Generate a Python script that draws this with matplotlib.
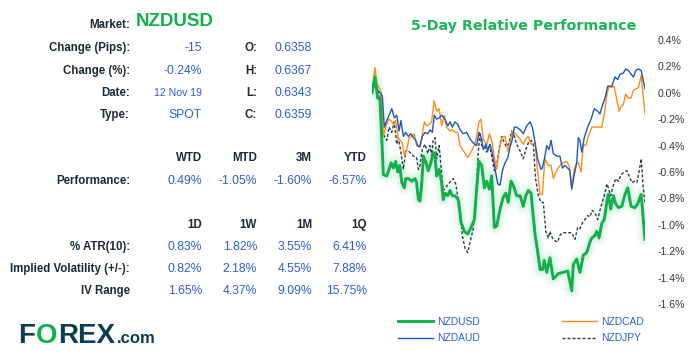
import matplotlib
matplotlib.use("Agg")
import matplotlib.pyplot as plt

plt.rcParams['font.family'] = ['Liberation Sans', 'DejaVu Sans']

# ---- 5-day relative performance (% change), x in hours ----
usd_t = [0, 1.3, 2.5, 3.5, 4.3, 5.0, 6.5, 7.5, 8.4, 9.4, 10.4, 11.3, 12.2, 13.1, 14.2, 14.8,
         16.0, 17.5, 18.9, 19.6, 20.4, 21.1, 21.8, 22.6, 23.6, 24.7, 25.9, 26.9, 27.7, 28.4,
         29.5, 30.6, 31.3, 32.1, 33.3, 34.3, 35.3, 36.5, 37.9, 38.7, 39.1, 40.6, 42.1, 43.5,
         45.0, 46.0, 47.0, 48.2, 49.4, 50.4, 51.6, 52.6, 53.8, 54.8, 56.3, 57.7, 58.8, 59.9,
         61.1, 62.1, 63.6, 65.1, 66.5, 67.6, 68.7, 69.9, 71.7, 72.8, 73.9, 74.9, 75.7, 76.8,
         78.2, 79.7, 81.9, 84.1, 86.0, 87.8, 88.5, 90.0, 91.4, 92.9, 94.4, 95.8, 96.6, 98.0,
         98.8, 99.8, 101.0, 102.1, 103.2, 103.9, 104.9, 106.1, 107.1, 108.3, 109.8, 111.2,
         112.4, 113.9, 115.6, 116.8, 118.3, 120.0]
usd_v = [0.00, 0.12, -0.04, -0.05, -0.35, -0.62, -0.63, -0.58, -0.53, -0.57, -0.52, -0.60,
         -0.55, -0.68, -0.72, -0.65, -0.65, -0.67, -0.65, -0.68, -0.81, -0.82, -0.70, -0.48,
         -0.52, -0.59, -0.53, -0.45, -0.48, -0.63, -0.58, -0.68, -0.81, -0.76, -0.78, -0.74,
         -0.78, -0.78, -0.81, -0.91, -0.98, -1.05, -1.07, -1.02, -0.96, -0.73, -0.52, -0.55,
         -0.72, -0.67, -0.73, -0.63, -1.02, -1.01, -0.88, -0.79, -0.76, -0.83, -0.67, -0.70,
         -0.78, -0.78, -0.86, -0.78, -0.74, -0.76, -1.08, -1.20, -1.34, -1.34, -1.27, -1.36,
         -1.25, -1.41, -1.37, -1.36, -1.35, -1.50, -1.30, -1.26, -1.36, -1.23, -1.21, -1.13,
         -1.10, -1.08, -1.05, -1.10, -0.99, -0.96, -0.83, -0.77, -0.88, -0.78, -0.84, -0.87,
         -0.86, -0.77, -0.72, -0.86, -0.87, -0.84, -0.77, -1.11]

aud_t = [0, 1.3, 2.5, 3.5, 4.5, 5.4, 6.5, 7.5, 8.7, 9.8, 10.9, 11.9, 12.7, 13.8, 14.8, 16.0,
         17.1, 18.2, 19.2, 20.1, 21.1, 22.1, 23.3, 24.5, 25.5, 26.5, 27.4, 28.4, 29.5, 30.6,
         32.1, 33.3, 34.3, 35.3, 36.5, 37.7, 38.7, 40.1, 41.6, 43.1, 44.5, 46.0, 47.0, 48.2,
         48.9, 50.0, 50.9, 51.9, 52.9, 54.1, 55.3, 56.3, 57.3, 58.5, 59.7, 60.7, 61.7, 62.6,
         63.6, 65.1, 66.5, 68.0, 69.5, 70.5, 71.7, 72.8, 74.3, 74.9, 76.0, 76.8, 77.8, 78.7,
         79.7, 81.2, 82.6, 83.7, 84.8, 86.0, 87.0, 87.8, 88.9, 90.0, 90.7, 91.4, 92.2, 93.3,
         94.8, 96.3, 97.7, 99.2, 100.2, 101.2, 102.4, 103.6, 105.4, 106.8, 108.0, 109.0,
         110.5, 111.5, 112.7, 113.9, 114.9, 116.0, 117.1, 118.3, 120.0]
aud_v = [0.00, 0.09, 0.02, 0.00, -0.02, -0.26, -0.21, -0.17, -0.12, -0.19, -0.17, -0.29,
         -0.21, -0.33, -0.30, -0.33, -0.31, -0.34, -0.36, -0.40, -0.41, -0.33, -0.30, -0.31,
         -0.28, -0.30, -0.17, -0.20, -0.19, -0.17, -0.20, -0.25, -0.22, -0.26, -0.22, -0.24,
         -0.28, -0.31, -0.30, -0.35, -0.38, -0.40, -0.30, -0.35, -0.43, -0.39, -0.44, -0.39,
         -0.46, -0.58, -0.69, -0.70, -0.59, -0.53, -0.49, -0.41, -0.35, -0.26, -0.26, -0.28,
         -0.31, -0.25, -0.22, -0.26, -0.38, -0.50, -0.58, -0.57, -0.48, -0.40, -0.43, -0.36,
         -0.46, -0.48, -0.48, -0.57, -0.55, -0.57, -0.59, -0.73, -0.62, -0.53, -0.34, -0.36,
         -0.45, -0.34, -0.26, -0.20, -0.12, -0.14, -0.16, -0.10, -0.04, 0.05, 0.05, 0.12,
         0.10, 0.14, 0.15, 0.18, 0.17, 0.14, 0.12, 0.17, 0.18, 0.17, 0.03]

cad_t = [0, 1.3, 2.2, 3.1, 4.0, 5.0, 6.0, 7.2, 8.4, 9.4, 10.4, 11.6, 12.4, 13.3, 14.2, 15.3,
         16.3, 17.5, 18.6, 19.6, 20.7, 21.8, 23.0, 24.0, 25.1, 26.2, 27.3, 28.4, 29.5, 30.6,
         31.8, 32.8, 34.3, 35.3, 36.5, 37.7, 38.7, 40.6, 42.1, 43.5, 45.0, 46.0, 47.0, 47.9,
         48.9, 50.4, 51.6, 52.6, 53.8, 54.8, 55.8, 57.0, 58.5, 59.7, 60.7, 61.7, 62.9, 64.0,
         65.1, 66.5, 67.6, 68.7, 69.9, 71.7, 72.8, 73.9, 74.9, 76.0, 77.5, 78.7, 79.7, 81.2,
         82.6, 84.1, 85.6, 86.6, 87.8, 88.9, 90.0, 90.7, 91.9, 92.9, 93.9, 95.1, 96.6, 98.0,
         99.5, 101.0, 102.1, 103.2, 104.2, 105.4, 106.4, 107.6, 108.6, 109.5, 110.5, 111.5,
         112.7, 113.9, 114.9, 116.0, 117.1, 118.3, 120.0]
cad_v = [0.00, 0.19, 0.07, 0.04, 0.00, -0.33, -0.26, -0.20, -0.21, -0.24, -0.21, -0.35,
         -0.36, -0.38, -0.48, -0.43, -0.34, -0.33, -0.31, -0.40, -0.41, -0.35, -0.22, -0.25,
         -0.24, -0.22, -0.06, -0.14, -0.12, -0.25, -0.17, -0.26, -0.29, -0.28, -0.30, -0.30,
         -0.40, -0.45, -0.49, -0.45, -0.40, -0.33, -0.22, -0.20, -0.35, -0.40, -0.31, -0.36,
         -0.49, -0.58, -0.45, -0.34, -0.33, -0.44, -0.38, -0.29, -0.31, -0.33, -0.35, -0.39,
         -0.35, -0.33, -0.39, -0.38, -0.60, -0.77, -0.77, -0.50, -0.55, -0.55, -0.65, -0.59,
         -0.55, -0.53, -0.52, -0.55, -0.72, -0.58, -0.53, -0.53, -0.60, -0.39, -0.40, -0.33,
         -0.26, -0.26, -0.26, -0.26, -0.16, -0.02, 0.05, 0.04, 0.05, -0.05, -0.14, -0.10,
         -0.09, -0.01, -0.04, -0.04, 0.02, 0.03, 0.04, 0.13, -0.16]

jpy_t = [0, 1.3, 2.5, 3.5, 4.5, 5.4, 6.5, 7.5, 8.7, 9.8, 10.9, 11.6, 12.7, 13.8, 14.8, 16.0,
         17.1, 18.2, 19.6, 20.4, 21.1, 22.1, 23.3, 24.5, 25.5, 26.2, 26.9, 27.7, 28.4, 29.5,
         30.3, 31.3, 32.4, 33.5, 34.7, 35.7, 36.8, 37.9, 38.7, 39.7, 40.9, 42.1, 43.1, 44.5,
         45.6, 46.7, 47.5, 48.2, 49.4, 50.4, 51.6, 52.6, 53.8, 54.8, 55.8, 57.0, 58.2, 59.2,
         60.2, 61.4, 62.6, 63.6, 65.1, 66.5, 67.6, 68.7, 69.9, 70.9, 71.9, 73.1, 74.3, 75.3,
         76.4, 77.5, 78.2, 79.3, 80.4, 81.6, 82.6, 83.7, 85.6, 87.8, 89.2, 90.4, 91.4, 92.4,
         93.6, 94.8, 95.8, 96.8, 98.0, 99.2, 100.2, 101.2, 102.4, 103.2, 103.9, 104.9, 106.1,
         107.1, 108.3, 109.5, 110.9, 112.0, 113.0, 114.2, 115.4, 116.4, 117.5, 118.3, 119.3,
         120.0]
jpy_v = [0.00, 0.08, 0.00, -0.02, -0.30, -0.33, -0.36, -0.26, -0.30, -0.22, -0.39, -0.34,
         -0.45, -0.58, -0.44, -0.44, -0.46, -0.48, -0.49, -0.58, -0.55, -0.43, -0.39, -0.46,
         -0.40, -0.48, -0.36, -0.34, -0.50, -0.40, -0.55, -0.74, -0.72, -0.69, -0.67, -0.65,
         -0.69, -0.81, -0.88, -1.08, -1.18, -1.21, -1.13, -1.03, -0.83, -0.45, -0.30, -0.40,
         -0.40, -0.45, -0.39, -0.48, -0.59, -0.55, -0.43, -0.33, -0.38, -0.41, -0.38, -0.29,
         -0.33, -0.39, -0.44, -0.50, -0.43, -0.38, -0.36, -0.39, -0.65, -0.78, -0.83, -0.83,
         -1.05, -1.10, -1.05, -1.10, -1.12, -1.13, -1.08, -1.06, -1.06, -1.06, -1.11, -1.02,
         -1.03, -0.99, -0.96, -0.93, -0.94, -0.89, -0.91, -0.96, -0.89, -0.83, -0.76, -0.69,
         -0.72, -0.78, -0.70, -0.65, -0.67, -0.62, -0.60, -0.59, -0.63, -0.68, -0.67, -0.68,
         -0.59, -0.50, -0.73, -0.83]

y_ticks = [0.4, 0.2, 0.0, -0.2, -0.4, -0.6, -0.8, -1.0, -1.2, -1.4, -1.6]

# ---- table data ----
market = "NZDUSD"
info_labels = ["Change (Pips):", "Change (%):", "Date:", "Type:"]
info_values = ["-15", "-0.24%", "12 Nov 19", "SPOT"]
ohlc_labels = ["O:", "H:", "L:", "C:"]
ohlc_values = ["0.6358", "0.6367", "0.6343", "0.6359"]
perf_headers = ["WTD", "MTD", "3M", "YTD"]
perf_values = ["0.49%", "-1.05%", "-1.60%", "-6.57%"]
vol_headers = ["1D", "1W", "1M", "1Q"]
vol_labels = ["% ATR(10):", "Implied Volatility (+/-):", "IV Range"]
vol_values = [["0.83%", "1.82%", "3.55%", "6.41%"],
              ["0.82%", "2.18%", "4.55%", "7.88%"],
              ["1.65%", "4.37%", "9.09%", "15.75%"]]

W, H = 695, 358
LABEL = '#1b2a3a'
VALUE = '#2e5fd0'
GREEN = '#12b04b'

fig = plt.figure(figsize=(W / 100, H / 100), dpi=100)
fig.patch.set_facecolor('white')


def fx(x):
    return x / W


def fy(y):
    return 1 - y / H


def put(x, y, s, **kw):
    kw.setdefault('va', 'center')
    return fig.text(fx(x), fy(y), s, **kw)


# header + info block
put(130, 25, "Market:", ha='right', fontsize=8.3, fontweight='bold', color=LABEL)
put(136, 22, market, ha='left', fontsize=13.5, fontweight='bold', color=GREEN)
rows_y = [48, 71, 93, 115]
for i, y in enumerate(rows_y):
    put(130, y, info_labels[i], ha='right', fontsize=8.3, fontweight='bold', color=LABEL)
    fs = 7.6 if info_labels[i] == "Date:" else 8.7
    put(202, y, info_values[i], ha='right', fontsize=fs, color=VALUE)
    put(257, y, ohlc_labels[i], ha='right', fontsize=8.3, fontweight='bold', color=LABEL)
    put(312, y, ohlc_values[i], ha='right', fontsize=8.7, color=VALUE)

cols_x = [202, 257, 312, 367]
for j, x in enumerate(cols_x):
    put(x, 158, perf_headers[j], ha='right', fontsize=8.3, fontweight='bold', color=LABEL)
    put(x, 181, perf_values[j], ha='right', fontsize=8.7, color=VALUE)
    put(x, 225, vol_headers[j], ha='right', fontsize=8.3, fontweight='bold', color=LABEL)
put(130, 181, "Performance:", ha='right', fontsize=8.3, fontweight='bold', color=LABEL)

for i, y in enumerate([247, 269, 291]):
    put(130, y, vol_labels[i], ha='right', fontsize=8.3, fontweight='bold', color=LABEL)
    for j, x in enumerate(cols_x):
        put(x, y, vol_values[i][j], ha='right', fontsize=8.7, color=VALUE)

# logo
renderer = fig.canvas.get_renderer()
x0 = 18
for part, col, fs in [("F", '#0e3c50', 20), ("O", GREEN, 20), ("REX", '#0e3c50', 20),
                      (".com", '#0e3c50', 12)]:
    t = fig.text(fx(x0), fy(343), part, ha='left', va='baseline', fontsize=fs,
                 fontweight='bold', color=col)
    bb = t.get_window_extent(renderer)
    if part == "O":
        cx = x0 + bb.width / 2
        fig.add_artist(plt.Rectangle((fx(cx - 1.2), fy(339)), 2.4 / W, 12 / H,
                                     transform=fig.transFigure, facecolor='white',
                                     edgecolor='none', zorder=5))
    x0 += bb.width + 1.0

# chart
ax = fig.add_axes([fx(372), fy(304), (645 - 372) / W, 264 / H])
for lw, a in [(11, 0.05), (8, 0.07), (5.5, 0.09)]:
    ax.plot(usd_t, usd_v, color='#5fd58a', lw=lw, alpha=a, solid_joinstyle='round',
            solid_capstyle='round')
ax.plot(jpy_t, jpy_v, color='#2b3d4f', lw=1.0, ls=(0, (2.2, 1.4)), label='NZDJPY')
ax.plot(cad_t, cad_v, color='#ff8c1a', lw=1.0, label='NZDCAD')
ax.plot(aud_t, aud_v, color='#1f56c0', lw=1.0, label='NZDAUD')
ax.plot(usd_t, usd_v, color=GREEN, lw=2.1, label='NZDUSD')

ax.set_xlim(0, 120)
ax.set_ylim(-1.6, 0.4)
ax.set_yticks(y_ticks)
ax.set_yticklabels([f"{v:.1f}%" for v in y_ticks])
ax.yaxis.tick_right()
ax.tick_params(axis='y', length=0, pad=9, labelsize=7.6, labelcolor='#333a40')
ax.set_xticks([])
for s in ax.spines.values():
    s.set_visible(False)
ax.patch.set_alpha(0)

fig.text(fx(523.5), fy(26), "5-Day Relative Performance", ha='center', va='center',
         fontsize=10.3, fontweight='bold', color='#1db45a', family='DejaVu Sans')

handles, labels = ax.get_legend_handles_labels()
order = ['NZDUSD', 'NZDAUD', 'NZDCAD', 'NZDJPY']
hmap = dict(zip(labels, handles))
fig.legend([hmap[k] for k in order], order, loc='upper left',
           bbox_to_anchor=(fx(398), fy(317)), ncol=2, frameon=False, fontsize=7.4,
           handlelength=3.4, handletextpad=0.4, columnspacing=8.0, labelspacing=0.6,
           borderpad=0, borderaxespad=0, labelcolor='#2e5fd0')

fig.savefig('out.png', dpi=100, facecolor='white')
